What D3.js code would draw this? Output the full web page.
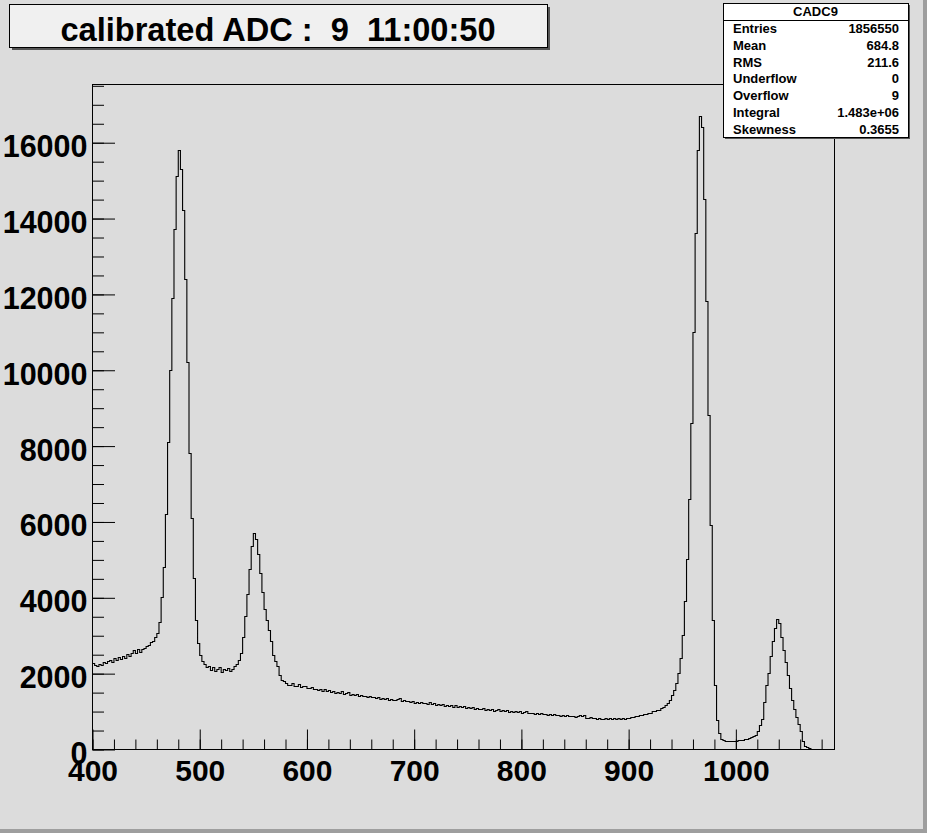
<!DOCTYPE html>
<html>
<head>
<meta charset="utf-8">
<script src="https://cdn.jsdelivr.net/npm/d3@7"></script>
<style>
  html, body { margin: 0; padding: 0; background: #dcdcdc; }
  svg { display: block; }
  text { font-family: "Liberation Sans", Arial, Helvetica, sans-serif; font-weight: bold; fill: #000; }
</style>
</head>
<body>
<svg id="chart" width="927" height="833"></svg>
<script>
// ---------------- data ----------------
const titleText = "calibrated ADC :  9  11:00:50";
const histName = "CADC9";
const binStart = 400;
const binWidth = 2;
const xRangeMax = 1092;
const xMajorTicks = [400, 500, 600, 700, 800, 900, 1000];
const yMajorTicks = [0, 2000, 4000, 6000, 8000, 10000, 12000, 14000, 16000];
const statLabels = ["Entries", "Mean", "RMS", "Underflow", "Overflow", "Integral", "Skewness"];
const statValues = ["1856550", "684.8", "211.6", "0", "9", "1.483e+06", "0.3655"];
// bin contents, bins of width 2 starting at 400
const counts = [
  // 400-460
  2260, 2220, 2190, 2250, 2210, 2290, 2270, 2310, 2350, 2290,
  2390, 2340, 2420, 2380, 2460, 2410, 2500, 2450, 2530, 2600,
  2520, 2630, 2550, 2650, 2660, 2720, 2740, 2810, 2850, 2950,
  // 460-504 peak 1
  3050, 3350, 4000, 4800, 6200, 8100, 10000, 11900, 13700, 15100,
  15800, 15300, 14200, 12400, 10200, 7800, 6100, 4500, 3400, 2800,
  2480, 2320,
  // 504-540 valley
  2230, 2160, 2190, 2090, 2150, 2060, 2120, 2160, 2040, 2110,
  2070, 2140, 2060, 2120, 2180, 2240, 2350, 2530,
  // 540-584 peak 2
  2950, 3500, 4100, 4750, 5350, 5700, 5550, 5150, 4650, 4150,
  3700, 3400, 3150, 2850, 2480, 2320, 2200, 1950, 1830, 1780,
  1740, 1700,
  // 584-940 continuum
  1690, 1735, 1670, 1660, 1705, 1640, 1655, 1670, 1610, 1615,
  1625, 1575, 1590, 1560, 1575, 1530, 1570, 1520, 1555, 1500,
  1540, 1480, 1515, 1470, 1520, 1455, 1470, 1490, 1430, 1460,
  1420, 1455, 1400, 1430, 1390, 1410, 1365, 1400, 1380, 1360,
  1340, 1375, 1330, 1345, 1320, 1335, 1300, 1330, 1295, 1280,
  1310, 1345, 1270, 1290, 1265, 1275, 1240, 1265, 1225, 1250,
  1210, 1245, 1200, 1220, 1195, 1230, 1180, 1210, 1165, 1195,
  1160, 1180, 1145, 1170, 1140, 1155, 1120, 1150, 1110, 1125,
  1100, 1130, 1085, 1110, 1075, 1100, 1065, 1090, 1060, 1045,
  1075, 1035, 1060, 1025, 1050, 1015, 1040, 1045, 1005, 1020,
  1010, 1025, 985, 1010, 975, 1000, 965, 990, 955, 980,
  990, 945, 960, 950, 930, 955, 920, 945, 910, 935,
  905, 915, 895, 915, 890, 905, 875, 900, 865, 890,
  860, 875, 880, 850, 875, 890, 865, 900, 830, 815,
  835, 805, 825, 795, 820, 800, 790, 815, 785, 805,
  780, 810, 790, 815, 795, 820, 800, 830, 820, 850,
  845, 875, 870, 900, 895, 925, 935, 955, 960, 990,
  1000, 1020, 1035, 1075, 1105, 1165, 1215, 1305,
  // 940-1004 peak 3
  1430, 1560, 1750, 2000, 2400, 3000, 3900, 5000, 6600, 8600,
  11000, 13600, 15800, 16700, 16400, 14500, 11800, 8800, 5900, 3400,
  1700, 760, 420, 270, 230, 215, 205, 210, 200, 215,
  220, 230,
  // 1004-1092 peak 4
  240, 250, 255, 265, 280, 320, 340, 380, 480, 620,
  800, 1250, 1700, 2000, 2450, 2850, 3200, 3420, 3330, 2950,
  2600, 2300, 1950, 1600, 1300, 1050, 850, 650, 470, 200,
  90, 40, 20, 5, 0, 0, 0, 0, 0, 0,
  0, 0, 0, 0
];

// ---------------- layout ----------------
const W = 927, H = 833;
const L = 92, R = 834, T = 84, B = 749;
const svg = d3.select("#chart");

svg.append("rect").attr("x", 0).attr("y", 0).attr("width", W).attr("height", H).attr("fill", "#dcdcdc");
// canvas bevel (bottom/right)
svg.append("rect").attr("x", W - 4).attr("y", 0).attr("width", 4).attr("height", H).attr("fill", "#9e9e9e");
svg.append("rect").attr("x", 0).attr("y", H - 4).attr("width", W).attr("height", 4).attr("fill", "#9e9e9e");

const x = d3.scaleLinear().domain([binStart, xRangeMax]).range([L, R]);
const y = d3.scaleLinear().domain([0, d3.max(counts) * 1.05]).range([B, T]);

// frame
svg.append("rect").attr("x", L + 0.5).attr("y", T + 0.5).attr("width", R - L).attr("height", B - T)
  .attr("fill", "none").attr("stroke", "#000").attr("stroke-width", 1);

// histogram
const pts = counts.map((c, i) => [binStart + i * binWidth, c]);
pts.push([binStart + counts.length * binWidth, counts[counts.length - 1]]);
const line = d3.line().x(d => x(d[0]) + 0.5).y(d => Math.round(y(d[1])) + 0.5).curve(d3.curveStepAfter);
svg.append("path").attr("d", line(pts)).attr("fill", "none").attr("stroke", "#000").attr("stroke-width", 1.1);

// x axis
const xMinor = d3.range(400, xRangeMax, 20);
const gxMinor = svg.append("g").attr("transform", `translate(0.5,${B + 0.5})`)
  .call(d3.axisBottom(x).tickValues(xMinor).tickSize(-10).tickFormat(""));
const gx = svg.append("g").attr("transform", `translate(0.5,${B + 0.5})`)
  .call(d3.axisBottom(x).tickValues(xMajorTicks).tickSize(-20).tickFormat(d3.format("d")));
gx.selectAll("text").attr("dy", null).attr("y", 31).style("font-size", "30px")
  .style("font-family", "'Liberation Sans', Arial, sans-serif").style("font-weight", "bold").attr("fill", "#000");

// y axis
const yMinor = d3.range(0, 17501, 500);
const gyMinor = svg.append("g").attr("transform", `translate(${L + 0.5},0.5)`)
  .call(d3.axisLeft(y).tickValues(yMinor).tickSize(-11.5).tickFormat(""));
const gy = svg.append("g").attr("transform", `translate(${L + 0.5},0.5)`)
  .call(d3.axisLeft(y).tickValues(yMajorTicks).tickSize(-22.5).tickPadding(5).tickFormat(d3.format("d")));
gy.selectAll("text").attr("dy", null).attr("y", 14).style("font-size", "30.5px")
  .style("font-family", "'Liberation Sans', Arial, sans-serif").style("font-weight", "bold").attr("fill", "#000");

[gxMinor, gx, gyMinor, gy].forEach(g => {
  g.select(".domain").remove();
  g.selectAll("line").attr("stroke", "#000").attr("stroke-width", 1);
});

// title box
const tb = { x: 9, y: 4, w: 538, h: 43 };
svg.append("rect").attr("x", tb.x + 3).attr("y", tb.y + 3).attr("width", tb.w).attr("height", tb.h).attr("fill", "#555");
svg.append("rect").attr("x", tb.x + 0.5).attr("y", tb.y + 0.5).attr("width", tb.w).attr("height", tb.h)
  .attr("fill", "#f0f0f0").attr("stroke", "#000").attr("stroke-width", 1);
svg.append("text").attr("x", tb.x + tb.w / 2).attr("y", 41).attr("text-anchor", "middle")
  .style("font-size", "32.6px").style("white-space", "pre").attr("xml:space", "preserve").text(titleText);

// stats box
const sb = { x: 723, y: 3, w: 185, h: 134 };
const rowH = sb.h / (statLabels.length + 1);
svg.append("rect").attr("x", sb.x + 2).attr("y", sb.y + 2).attr("width", sb.w).attr("height", sb.h).attr("fill", "#555");
svg.append("rect").attr("x", sb.x + 0.5).attr("y", sb.y + 0.5).attr("width", sb.w).attr("height", sb.h)
  .attr("fill", "#ffffff").attr("stroke", "#000").attr("stroke-width", 1);
svg.append("line").attr("x1", sb.x).attr("x2", sb.x + sb.w).attr("y1", Math.round(sb.y + rowH) + 0.5).attr("y2", Math.round(sb.y + rowH) + 0.5)
  .attr("stroke", "#000").attr("stroke-width", 1);
svg.append("text").attr("x", sb.x + sb.w / 2).attr("y", sb.y + rowH / 2 + 5).attr("text-anchor", "middle")
  .style("font-size", "13px").text(histName);
statLabels.forEach((lab, i) => {
  const yy = sb.y + rowH * (i + 1) + rowH / 2 + 5;
  svg.append("text").attr("x", sb.x + 10).attr("y", yy).style("font-size", "13px").text(lab);
  svg.append("text").attr("x", sb.x + sb.w - 9).attr("y", yy).attr("text-anchor", "end").style("font-size", "13px").text(statValues[i]);
});
</script>
</body>
</html>
